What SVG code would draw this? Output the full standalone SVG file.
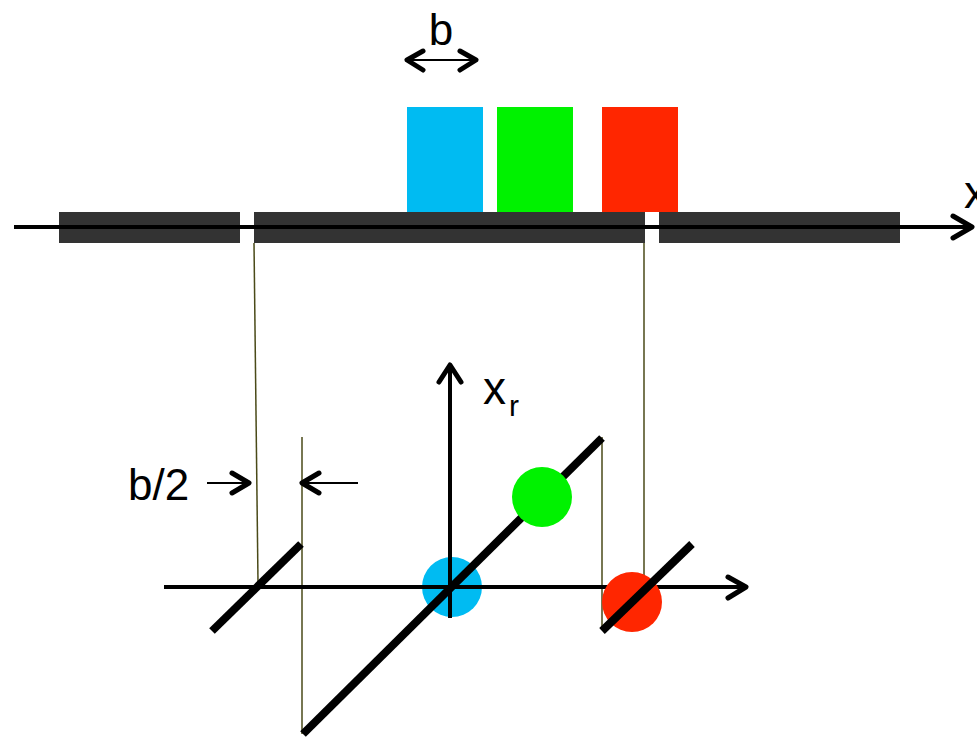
<svg xmlns="http://www.w3.org/2000/svg" width="977" height="737" viewBox="0 0 977 737">
<style>
.bar{fill:#333333}
.axis{stroke:#000;stroke-width:4;fill:none}
.head{stroke:#000;stroke-width:5;fill:none;stroke-linecap:round;stroke-linejoin:round}
.thin{stroke:#000;stroke-width:2;fill:none}
.guide{stroke:#4a4a18;stroke-width:1.5;fill:none}
.diag{stroke:#000;stroke-width:8;fill:none}
.lbl{font-family:"Liberation Sans",Arial,sans-serif;fill:#000}
</style>
<rect width="977" height="737" fill="#fff"/>
<g id="blocks">
<rect id="blue-block" x="407" y="107" width="76" height="105" fill="#00bbf2"/>
<rect id="green-block" x="497" y="107" width="76" height="105" fill="#00f200"/>
<rect id="red-block" x="602" y="107" width="76" height="105" fill="#ff2600"/>
</g>
<g id="bars">
<rect class="bar" x="59" y="212" width="181" height="31"/>
<rect class="bar" x="254" y="212" width="391" height="31"/>
<rect class="bar" x="659" y="212" width="241" height="31"/>
</g>
<g id="guides">
<line class="guide" x1="254" y1="243" x2="258" y2="582"/>
<line class="guide" x1="302" y1="437" x2="302" y2="734"/>
<line class="guide" x1="644" y1="243" x2="644" y2="578"/>
<line class="guide" x1="602" y1="437" x2="602" y2="630"/>
</g>
<circle id="blue-dot" cx="452" cy="587" r="30" fill="#00bbf2"/>
<g id="connectors">
<line class="axis" x1="14" y1="227" x2="972" y2="227"/>
<polyline class="head" points="953,216 972,227 953,238"/>
<line class="axis" x1="164" y1="587" x2="746" y2="587"/>
<polyline class="head" points="728,577 746,587 728,598"/>
<line class="axis" x1="450" y1="618" x2="450" y2="365"/>
<polyline class="head" points="439,382 450,365 461,382"/>
<line class="thin" x1="407" y1="60" x2="476" y2="60"/>
<polyline class="head" points="423,51 407,60 423,70"/>
<polyline class="head" points="460,51 476,60 460,70"/>
<line class="thin" x1="207" y1="483" x2="249" y2="483"/>
<polyline class="head" points="232,473 249,483 232,493"/>
<line class="thin" x1="302" y1="483" x2="358" y2="483"/>
<polyline class="head" points="319,473 302,483 319,493"/>
</g>
<circle id="red-dot" cx="632" cy="602" r="30" fill="#ff2600"/>
<g id="diagonals">
<line class="diag" x1="303" y1="734" x2="602" y2="438"/>
<line class="diag" x1="212" y1="631" x2="301" y2="544"/>
<line class="diag" x1="602" y1="631" x2="692" y2="544"/>
</g>
<circle id="green-dot" cx="542" cy="497" r="30" fill="#00f200"/>
<g id="labels">
<text class="lbl" x="441" y="45" font-size="44" text-anchor="middle">b</text>
<text class="lbl" x="128" y="500" font-size="44">b/2</text>
<text class="lbl" x="483" y="404" font-size="46">x</text>
<text class="lbl" x="509" y="416" font-size="30">r</text>
<text class="lbl" x="964" y="208" font-size="46">x</text>
</g>
</svg>
